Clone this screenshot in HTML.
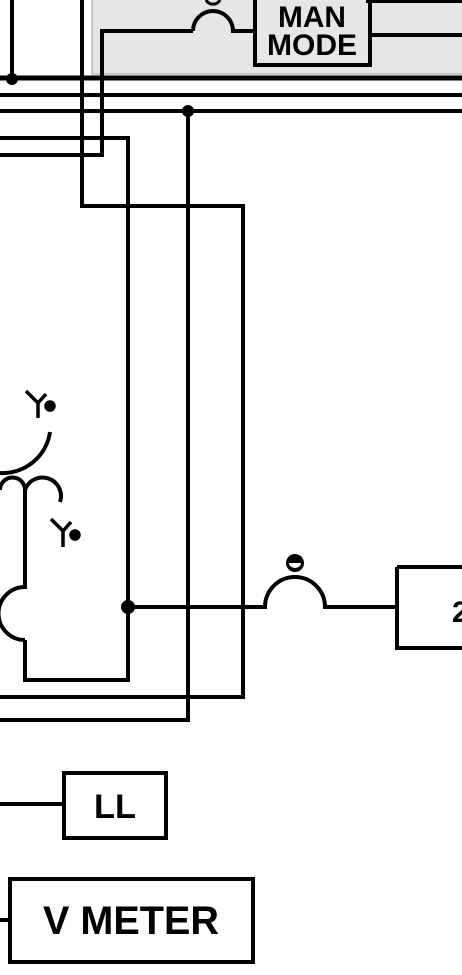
<!DOCTYPE html>
<html><head><meta charset="utf-8"><style>
html,body{margin:0;padding:0;background:#fff;}
svg{display:block}
text{font-family:"Liberation Sans",sans-serif;font-weight:bold;fill:#000}
</style></head><body>
<svg width="462" height="975" viewBox="0 0 462 975" fill="none" stroke="#000" stroke-width="4">
<rect x="92" y="-2" width="372" height="76" fill="#e6e6e6" stroke="#bbb" stroke-width="1.5"/>
<g>
<line x1="0" y1="78" x2="462" y2="78" stroke-width="5"/>
<line x1="0" y1="95" x2="462" y2="95"/>
<line x1="0" y1="111" x2="462" y2="111"/>
</g>
<line x1="12" y1="0" x2="12" y2="79"/>
<circle cx="12" cy="79" r="6" fill="#000" stroke="none"/>
<circle cx="188" cy="111" r="6" fill="#000" stroke="none"/>
<polyline points="82,0 82,206 243,206 243,697 0,697"/>
<polyline points="0,155 102,155 102,31 193,31"/>
<path d="M193,31 A20,20 0 0 1 233,31 L255,31"/>
<path d="M206,0 A8,8 0 0 0 220,0" stroke-width="3"/>
<rect x="255" y="-5" width="115" height="70"/>
<text x="312" y="27" font-size="30" text-anchor="middle" textLength="68" lengthAdjust="spacingAndGlyphs" stroke="none">MAN</text>
<text x="312" y="55" font-size="30" text-anchor="middle" textLength="90" lengthAdjust="spacingAndGlyphs" stroke="none">MODE</text>
<line x1="370" y1="35" x2="462" y2="35"/>
<line x1="366" y1="1" x2="462" y2="1"/>
<polyline points="0,138 128,138 128,680 25,680 25,640"/>
<polyline points="188,111 188,720 0,720"/>
<circle cx="128" cy="607" r="7" fill="#000" stroke="none"/>
<path d="M128,607 L265,607 A30,30 0 0 1 325,607 L397,607"/>
<circle cx="295" cy="563" r="9" fill="#000" stroke="none"/>
<path d="M289,563 A6,5 0 0 0 301,563 Z" fill="#fff" stroke="none"/>
<polyline points="397,567 397,648 464,648"/>
<line x1="397" y1="567" x2="464" y2="567"/>
<text x="452" y="622" font-size="30" stroke="none">2</text>
<path d="M50,432 A48,48 0 0 1 0,473"/>
<path d="M0,490 A12,12 0 0 1 25,490 A17,17 0 0 1 60,502"/>
<path d="M25,490 L25,587 A26,26 0 0 0 25,640"/>
<g stroke-width="3.5">
<line x1="26" y1="391" x2="38" y2="403"/><line x1="38" y1="403" x2="46" y2="394"/><line x1="38" y1="403" x2="38" y2="418"/><circle cx="50" cy="406" r="4" fill="#000"/>
</g>
<g stroke-width="3.5">
<line x1="51" y1="519" x2="63" y2="531"/><line x1="63" y1="531" x2="71" y2="522"/><line x1="63" y1="531" x2="63" y2="547"/><circle cx="75" cy="535" r="4" fill="#000"/>
</g>
<line x1="0" y1="804" x2="64" y2="804"/>
<rect x="64" y="773" width="102" height="65"/>
<text x="115" y="818" font-size="34" text-anchor="middle" textLength="42" lengthAdjust="spacingAndGlyphs" stroke="none">LL</text>
<line x1="0" y1="920" x2="10" y2="920"/>
<rect x="10" y="879" width="243" height="83"/>
<text x="131" y="934" font-size="40" text-anchor="middle" textLength="176" lengthAdjust="spacingAndGlyphs" stroke="none">V METER</text>
</svg>
</body></html>
